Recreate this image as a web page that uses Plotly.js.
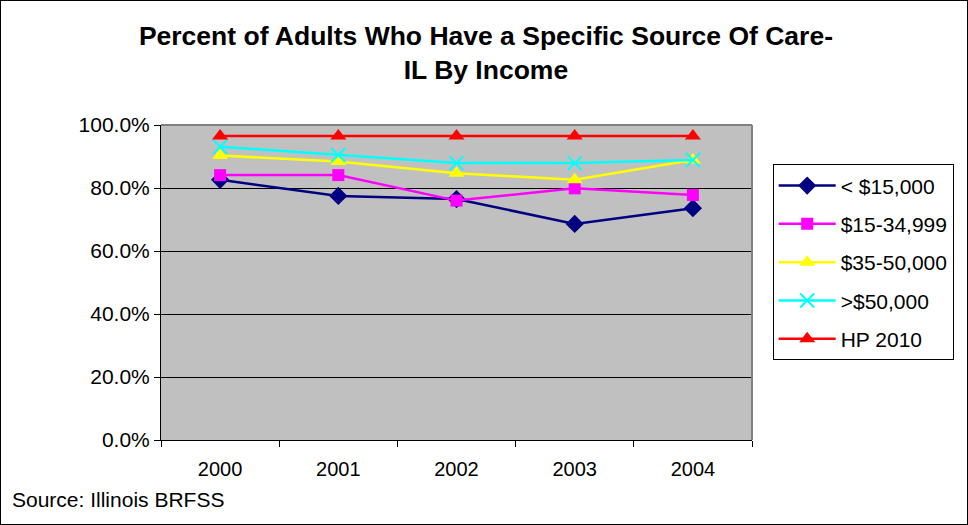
<!DOCTYPE html>
<html>
<head>
<meta charset="utf-8">
<script src="https://cdn.plot.ly/plotly-3.0.1.min.js"></script>
<style>
html,body{margin:0;padding:0;background:#fff;}
#wrap{position:relative;width:968px;height:525px;}
#chart{width:968px;height:525px;}
#frame{position:absolute;left:0;top:0;width:968px;height:525px;box-sizing:border-box;border:1px solid #000;pointer-events:none;}
</style>
</head>
<body>
<div id="wrap"><div id="chart"></div><div id="frame"></div></div>
<script>
const years = ["2000", "2001", "2002", "2003", "2004"];
const under15k = [82.6, 77.5, 76.5, 68.6, 73.6];
const from15to35k = [84.1, 84.1, 76.0, 79.9, 77.8];
const from35to50k = [90.3, 88.4, 84.7, 82.6, 88.9];
const over50k = [93.1, 90.5, 87.9, 87.9, 88.9];
const hp2010 = [96.5, 96.5, 96.5, 96.5, 96.5];
const yTicks = [0, 20, 40, 60, 80, 100];
const yTickLabels = ["0.0%", "20.0%", "40.0%", "60.0%", "80.0%", "100.0%"];

const font = "Liberation Sans, Arial, sans-serif";

function tr(name, y, color, symbol, size, group) {
  const isX = symbol.indexOf("x") === 0;
  return {
    x: years, y: y, name: name, type: "scatter", mode: "lines+markers",
    legendgroup: group,
    line: {color: color, width: 2.5},
    marker: isX ? {symbol: symbol, size: size, color: color, line: {color: color, width: 2}}
               : {symbol: symbol, size: size, color: color, line: {width: 0}},
    cliponaxis: false
  };
}

const data = [
  tr("< $15,000", under15k, "#000080", "diamond", 14, "g1"),
  tr("$15-34,999", from15to35k, "#FF00FF", "square", 12, "g2"),
  tr("$35-50,000", from35to50k, "#FFFF00", "triangle-up", 14, "g3"),
  tr(">$50,000", over50k, "#00FFFF", "x-thin-open", 14, "g4"),
  tr("HP 2010", hp2010, "#FF0000", "triangle-up", 14, "g5")
];

const layout = {
  width: 968, height: 525,
  margin: {l: 161, r: 216, t: 125, b: 85},
  paper_bgcolor: "#FFFFFF",
  plot_bgcolor: "#C0C0C0",
  font: {family: font, size: 21, color: "#000"},
  title: {
    text: "<b>Percent of Adults Who Have a Specific Source Of Care-<br>IL By Income</b>",
    font: {family: font, size: 26.5, color: "#000"},
    x: 0.502, xref: "container", xanchor: "center",
    y: 0.915, yref: "container", yanchor: "top"
  },
  xaxis: {
    type: "category",
    range: [-0.5, 4.5],
    tickson: "boundaries",
    ticks: "outside", ticklen: 6, tickcolor: "#000", tickwidth: 1,
    ticklabelstandoff: 11,
    showline: true, linecolor: "#000", linewidth: 1,
    showgrid: false, zeroline: false,
    tickfont: {family: font, size: 20, color: "#000"},
    mirror: false
  },
  yaxis: {
    range: [0, 100],
    tickvals: yTicks, ticktext: yTickLabels,
    ticks: "outside", ticklen: 6, tickcolor: "#000", tickwidth: 1,
    showline: true, linecolor: "#000", linewidth: 1,
    showgrid: true, gridcolor: "#000", gridwidth: 1,
    zeroline: false,
    tickfont: {family: font, size: 21, color: "#000"}
  },
  shapes: [
    {type: "line", xref: "paper", yref: "paper", x0: 0, x1: 1, y0: 1, y1: 1, line: {color: "#808080", width: 2}},
    {type: "line", xref: "paper", yref: "paper", x0: 1, x1: 1, y0: 0, y1: 1, line: {color: "#808080", width: 2}}
  ],
  legend: {
    x: 1.035, xanchor: "left", y: 0.875, yanchor: "top",
    xref: "paper", yref: "paper",
    bgcolor: "#FFFFFF", bordercolor: "#000", borderwidth: 1,
    font: {family: font, size: 21, color: "#000"},
    traceorder: "grouped", tracegroupgap: 8,
    itemwidth: 57
  },
  annotations: [
    {text: "Source: Illinois BRFSS", xref: "paper", yref: "paper",
     x: -151/591, y: -0.19, xanchor: "left", yanchor: "middle",
     showarrow: false, font: {family: font, size: 21, color: "#000"}}
  ]
};

Plotly.newPlot("chart", data, layout, {displayModeBar: false, staticPlot: true});
</script>
</body>
</html>
